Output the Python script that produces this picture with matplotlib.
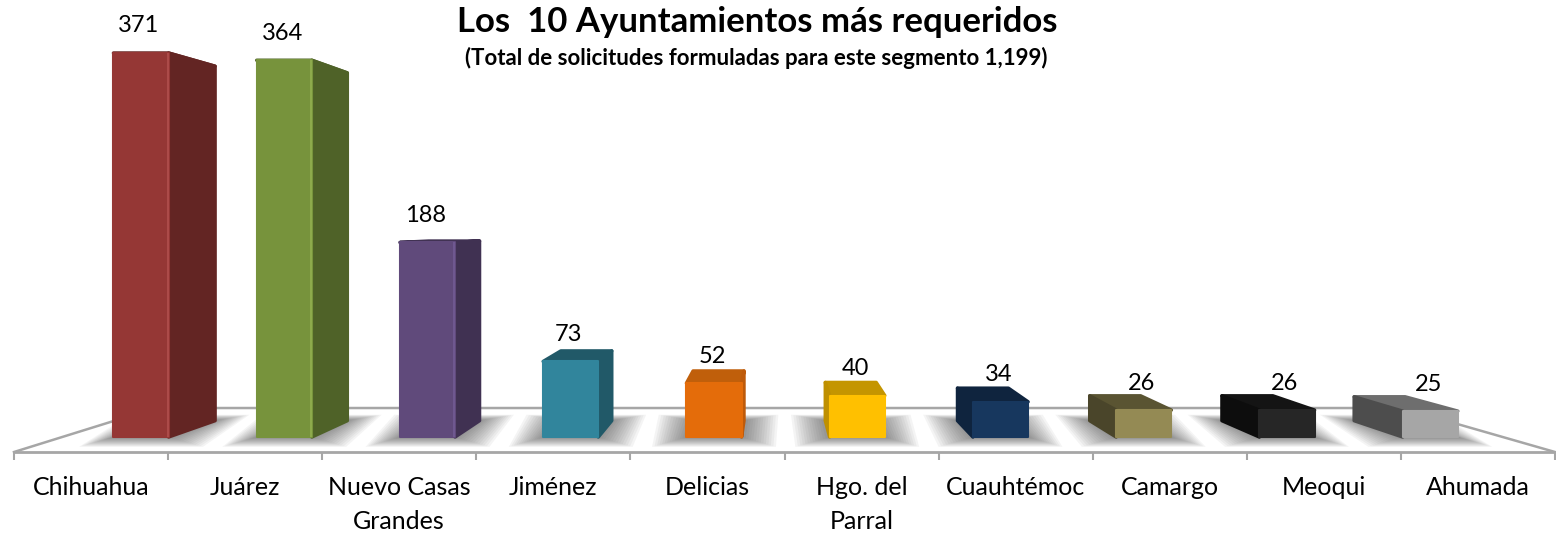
import numpy as np
import matplotlib
matplotlib.use('Agg')
import matplotlib.pyplot as plt
from matplotlib.patches import Polygon

# data
municipios = ['Chihuahua', 'Juárez', 'Nuevo Casas\nGrandes', 'Jiménez', 'Delicias',
              'Hgo. del\nParral', 'Cuauhtémoc', 'Camargo', 'Meoqui', 'Ahumada']
solicitudes = [371, 364, 188, 73, 52, 40, 34, 26, 26, 25]
front_colors = ['#953735', '#77933C', '#604A7B', '#31859C', '#E46C0A',
                '#FFC000', '#17375E', '#948A54', '#262626', '#A6A6A6']
side_colors = ['#632523', '#4F6228', '#403152', '#215968', '#BE5A0A',
               '#BF9000', '#0F243E', '#4A452A', '#0D0D0D', '#4D4D4D']
top_colors = ['#632523', '#4F6228', '#403152', '#215968', '#C05F0B',
              '#C49500', '#0F243E', '#5A5432', '#141414', '#6E6E6E']
highlight_colors = ['#AC4B49', '#8DAA4C', '#6F5890', '#31859C', '#E46C0A',
                    '#FFC000', '#17375E', '#948A54', '#262626', '#A6A6A6']

titulo = 'Los  10 Ayuntamientos más requeridos'
subtitulo = '(Total de solicitudes formuladas para este segmento 1,199)'

plt.rcParams['font.family'] = ['Lato', 'DejaVu Sans']

W, H = 1556, 534
fig = plt.figure(figsize=(W / 100, H / 100), dpi=100)
ax = fig.add_axes([14 / W, (H - 452) / H, (1555 - 14) / W, 452 / H])

# one category = 143.25 px at the front of the floor, one request = 1.035 px
ax.set_xlim((14 - 141) / 143.25, (1555 - 141) / 143.25)
ax.set_ylim(-15 / 1.035, 452 / 1.035 - 15 / 1.035)

x = np.arange(len(solicitudes))
ancho = 0.385
depth = 0.077
vp_x, vp_y = 4.41, 205.0


def back(px, py):
    return px + depth * (vp_x - px), py + depth * (vp_y - py)


# floor
x0, x1 = ax.get_xlim()
y0 = ax.get_ylim()[0]
y_back = 28
ax.plot([x0, 0.1, 8.8, x1], [y0, y_back, y_back, y0], color='#A6A6A6', lw=1.8,
        zorder=1, solid_joinstyle='miter', clip_on=False)

# shadows on the floor
for i in range(len(x)):
    fl = x[i] - ancho / 2
    fr = x[i] + ancho / 2
    bl = back(fl, 0)
    br = back(fr, 0)
    for e in np.linspace(1, 0.05, 14):
        ex = 0.24 * e
        ey = 9.5 * e
        pts = [(fl - ex, -ey), (fr + ex, -ey), (br[0] + ex, br[1] + ey * 0.6), (bl[0] - ex, bl[1] + ey * 0.6)]
        ax.add_patch(Polygon(pts, closed=True, fc='#404040', ec='none', alpha=0.055, zorder=2))

# back faces of the boxes
for i in range(len(x)):
    v = solicitudes[i]
    fl = x[i] - ancho / 2
    fr = x[i] + ancho / 2
    tl_b = back(fl, v)
    tr_b = back(fr, v)
    bl_b = back(fl, 0)
    br_b = back(fr, 0)
    ax.add_patch(Polygon([(fl, v), (fr, v), tr_b, tl_b], closed=True, fc=top_colors[i],
                         ec=top_colors[i], lw=2.5, joinstyle='round', zorder=3))
    if tr_b[0] > fr:
        ax.add_patch(Polygon([(fr, v), tr_b, br_b, (fr, 0)], closed=True, fc=side_colors[i],
                             ec=side_colors[i], lw=2.5, joinstyle='round', zorder=3))
    if tl_b[0] < fl:
        ax.add_patch(Polygon([(fl, v), tl_b, bl_b, (fl, 0)], closed=True, fc=side_colors[i],
                             ec=side_colors[i], lw=2.5, joinstyle='round', zorder=3))

bars = ax.bar(x, solicitudes, ancho, color=front_colors, edgecolor=front_colors,
              linewidth=1.5, zorder=4)
for b in bars:
    b.set_joinstyle('round')

# light edge on the front face
ax.vlines(x + ancho / 2 - 0.006, 0, solicitudes, colors=highlight_colors, lw=1.5, zorder=5)

for i in range(len(x)):
    ax.annotate(str(solicitudes[i]), (x[i], solicitudes[i]), xytext=(-1.5, 19.5),
                textcoords='offset points', ha='center', va='center', fontsize=17,
                color='black', zorder=6, annotation_clip=False)

# axis
for s in ['left', 'right', 'top']:
    ax.spines[s].set_visible(False)
ax.spines['bottom'].set_color('#A6A6A6')
ax.spines['bottom'].set_linewidth(2)
ax.patch.set_visible(False)
bordes = np.linspace(x0, x1, len(x) + 1)
ax.set_yticks([])
ax.set_xticks(bordes)
ax.set_xticklabels([])
ax.set_xticks((bordes[:-1] + bordes[1:]) / 2, minor=True)
ax.set_xticklabels(municipios, minor=True, fontsize=18, linespacing=1.55)
ax.tick_params(axis='x', which='major', length=6, width=1.5, color='#A6A6A6')
ax.tick_params(axis='x', which='minor', length=0, pad=17.5)

fig.text(757 / W, 1 - 22 / H, titulo, ha='center', va='center', fontsize=25, fontweight='bold')
fig.text(756 / W, 1 - 58 / H, subtitulo, ha='center', va='center', fontsize=16, fontweight='bold')

fig.savefig('out.png', dpi=100)
